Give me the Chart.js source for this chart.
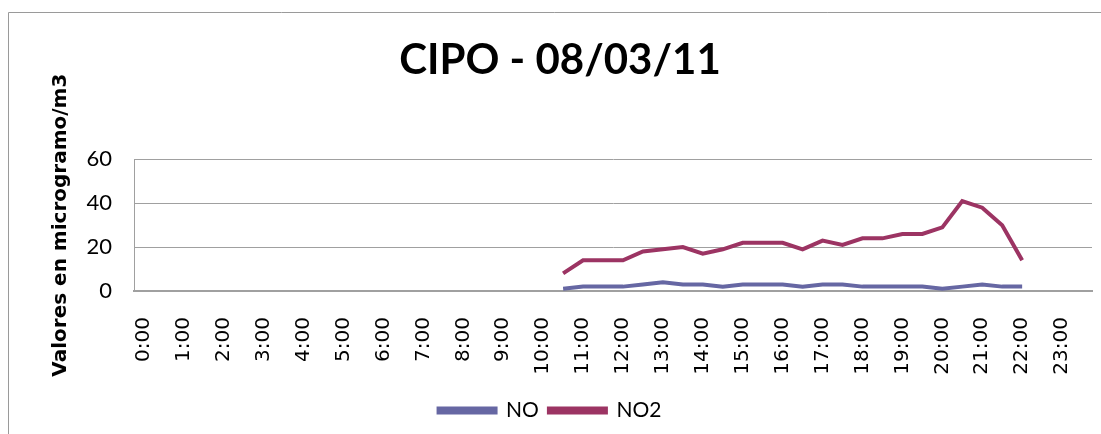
<!DOCTYPE html>
<html>
<head>
<meta charset="utf-8">
<script src="https://cdn.jsdelivr.net/npm/chart.js@4.4.0/dist/chart.umd.min.js"></script>
<style>
  html, body { margin: 0; padding: 0; background: #fff; }
  #wrap { width: 1101px; height: 434px; position: relative; }
</style>
</head>
<body>
<div id="wrap"><canvas id="c"></canvas></div>
<script>
// Categories: every half hour 0:00 .. 23:30
const timeLabels = ["0:00","0:30","1:00","1:30","2:00","2:30","3:00","3:30","4:00","4:30","5:00","5:30",
  "6:00","6:30","7:00","7:30","8:00","8:30","9:00","9:30","10:00","10:30","11:00","11:30",
  "12:00","12:30","13:00","13:30","14:00","14:30","15:00","15:30","16:00","16:30","17:00","17:30",
  "18:00","18:30","19:00","19:30","20:00","20:30","21:00","21:30","22:00","22:30","23:00","23:30"];

const noValues = [null,null,null,null,null,null,null,null,null,null,null,null,
  null,null,null,null,null,null,null,null,null,1,2,2,
  2,3,4,3,3,2,3,3,3,2,3,3,
  2,2,2,2,1,2,3,2,2,null,null,null];

const no2Values = [null,null,null,null,null,null,null,null,null,null,null,null,
  null,null,null,null,null,null,null,null,null,8,14,14,
  14,18,19,20,17,19,22,22,22,19,23,21,
  24,24,26,26,29,41,38,30,14,null,null,null];

const yTicks = [0, 20, 40, 60];

const frame = {
  id: 'frame',
  beforeDraw(chart) {
    const ctx = chart.ctx;
    ctx.save();
    ctx.strokeStyle = '#9a9a9a';
    ctx.lineWidth = 1;
    ctx.beginPath();
    ctx.moveTo(8.5, 434);
    ctx.lineTo(8.5, 12.5);
    ctx.lineTo(1101, 12.5);
    ctx.stroke();
    ctx.restore();
  },
  afterLayout(chart) {
    const t = chart.titleBlock;
    if (t) { t.left += 10; t.right += 10; }
  }
};

new Chart(document.getElementById('c'), {
  type: 'line',
  data: {
    labels: timeLabels,
    datasets: [
      { label: 'NO', data: noValues, borderColor: '#6667a3', backgroundColor: '#6667a3',
        borderWidth: 4, pointRadius: 0, tension: 0, spanGaps: false },
      { label: 'NO2', data: no2Values, borderColor: '#9c3463', backgroundColor: '#9c3463',
        borderWidth: 4, pointRadius: 0, tension: 0, spanGaps: false }
    ]
  },
  options: {
    responsive: true,
    maintainAspectRatio: false,
    animation: false,
    layout: { padding: { top: 20, left: 8, right: 9, bottom: 3 } },
    plugins: {
      title: {
        display: true,
        text: 'CIPO - 08/03/11',
        color: '#000',
        font: { family: 'Lato', size: 42, weight: 'bold' },
        padding: { top: 15, bottom: 74 }
      },
      legend: {
        position: 'bottom',
        labels: {
          color: '#000',
          font: { family: 'Lato', size: 21 },
          boxWidth: 57,
          boxHeight: 4,
          padding: 10
        }
      },
      tooltip: { enabled: false }
    },
    scales: {
      x: {
        offset: true,
        grid: { display: false, drawTicks: false },
        border: { display: true, color: '#a0a0a0', width: 2 },
        ticks: {
          color: '#000',
          font: { family: 'DejaVu Sans', size: 20 },
          autoSkip: false,
          maxRotation: 90,
          minRotation: 90,
          padding: 26,
          callback: function(v, i) { return i % 2 === 0 ? timeLabels[i] : ''; }
        },
        afterFit(scale) { scale.height = 99; scale.paddingLeft = 0; scale.paddingRight = 0; }
      },
      y: {
        min: 0,
        max: 60,
        afterBuildTicks(scale) { scale.ticks = yTicks.map(v => ({ value: v })); },
        grid: { color: '#a0a0a0', lineWidth: 1, drawTicks: false },
        border: { display: true, color: '#a0a0a0', width: 1 },
        ticks: {
          color: '#000',
          font: { family: 'Lato', size: 22 },
          padding: 22
        },
        title: {
          display: true,
          text: 'Valores en microgramo/m3',
          color: '#000',
          font: { family: 'DejaVu Sans', size: 20, weight: 'bold' },
          padding: { top: 41, bottom: 0 }
        },
        afterFit(scale) { scale.width = 126; }
      }
    }
  },
  plugins: [frame]
});
</script>
</body>
</html>
